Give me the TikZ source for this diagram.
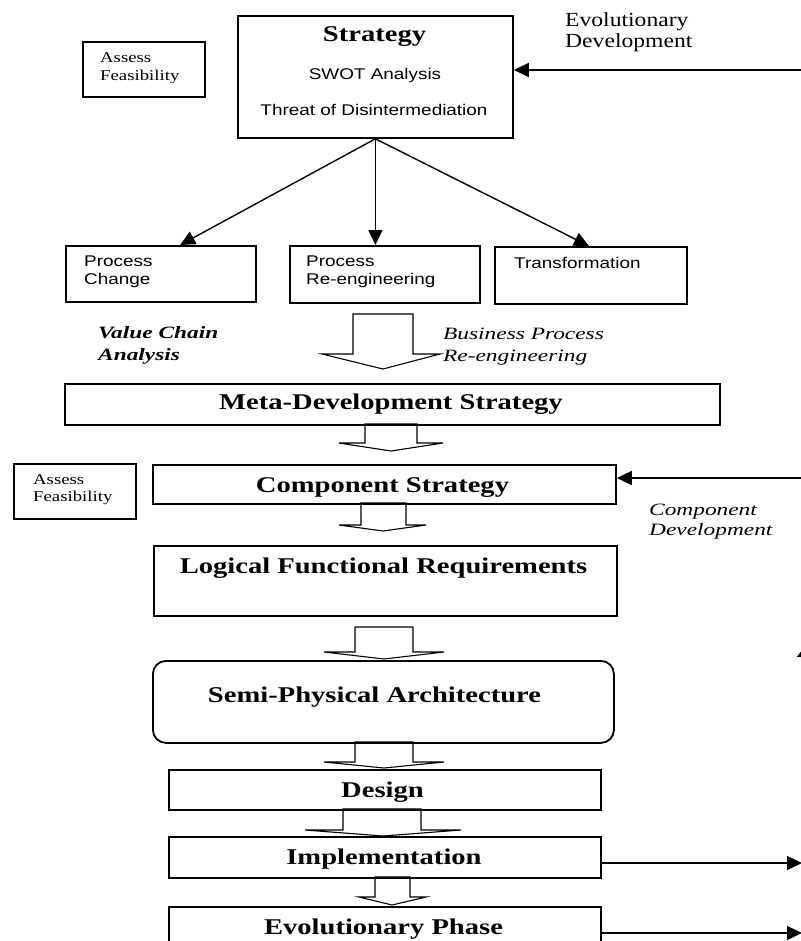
\documentclass[tikz,border=0pt]{standalone}
\usepackage{fontspec}
\setmainfont{Liberation Serif}
% widened faces: the figure's lettering is set noticeably broad
\newfontfamily\titlefont[FakeStretch=1.27]{Liberation Serif}
\newfontfamily\widesans[FakeStretch=1.22]{Liberation Sans}
\newfontfamily\noteserif[FakeStretch=1.25]{Liberation Serif}
\newfontfamily\labelserif[FakeStretch=1.35]{Liberation Serif}
\newfontfamily\evoserif[FakeStretch=1.18]{Liberation Serif}
\usetikzlibrary{arrows.meta,calc}

% hollow block arrow: shaft left, shaft right, shaft top, shoulder y,
% head left, head right, tip y, tip x
\newcommand\blkarrow[8]{%
  \draw[blockarrow] (#1,#3) -- (#2,#3) -- (#2,#4) -- (#6,#4) -- (#8,#7)
    -- (#5,#4) -- (#1,#4) -- cycle;}

\begin{document}
\begin{tikzpicture}[x=1pt,y=-1pt,
  box/.style={draw,line width=1.8pt,inner sep=0pt,anchor=north west},
  txt/.style={inner sep=0pt,anchor=base},
  ltxt/.style={inner sep=0pt,anchor=base west},
  title/.style={txt,font=\titlefont\bfseries\fontsize{22.5}{27}\selectfont},
  sanstext/.style={ltxt,font=\widesans\fontsize{15.5}{19}\selectfont},
  note/.style={ltxt,font=\noteserif\fontsize{15}{18}\selectfont},
  phase/.style={ltxt,font=\labelserif\itshape\fontsize{17.3}{21}\selectfont},
  evo/.style={ltxt,font=\evoserif\fontsize{20}{24}\selectfont},
  conn/.style={line width=1.4pt,-{Triangle[length=15pt,width=14pt]}},
  blockarrow/.style={line width=1.1pt,line join=miter}]
\useasboundingbox (0,0) rectangle (800,941);
\fill[white] (0,0) rectangle (800,941);

% ---- strategy level ----
\node[box,minimum width=275pt,minimum height=122pt] (strat) at (237,15) {};
\node[title] (stratT) at (374.5,42) {Strategy};
\node[txt,font=\widesans\fontsize{15.5}{19}\selectfont] (swot) at (375,80) {SWOT Analysis};
\node[txt,font=\widesans\fontsize{15.5}{19}\selectfont] (threat) at (374,116) {Threat of Disintermediation};

\node[box,minimum width=122pt,minimum height=55pt] (af1) at (82,41) {};
\node[note] (af1a) at (100,63) {Assess};
\node[note] (af1b) at (100,81) {Feasibility};

\node[evo] (evoA) at (565,27) {Evolutionary};
\node[evo] (evoB) at (565,48) {Development};

% ---- three kinds of change ----
\node[box,minimum width=190pt,minimum height=56pt] (pc) at (65,245) {};
\node[sanstext] (pcA) at (84,266) {Process};
\node[sanstext] (pcB) at (84,284) {Change};
\node[box,minimum width=190pt,minimum height=57pt] (pr) at (289,245) {};
\node[sanstext] (prA) at (306,266) {Process};
\node[sanstext] (prB) at (306,284) {Re-engineering};
\node[box,minimum width=192pt,minimum height=57pt] (tr) at (494,246) {};
\node[sanstext] (trA) at (514,268) {Transformation};

\draw[conn] (strat.south) -- ($(pc.north west)!0.6!(pc.north east)$);
\draw[conn] (strat.south) -- (strat.south |- pr.north);
\draw[conn] (strat.south) -- ($(tr.north west)!0.49!(tr.north east)$);

\coordinate (evoIn) at (806,70);
\draw[conn] (evoIn) -- (evoIn -| strat.east);

% ---- analysis techniques ----
\node[phase,font=\labelserif\bfseries\itshape\fontsize{17.3}{21}\selectfont] (vcA) at (98,338) {Value Chain};
\node[phase,font=\labelserif\bfseries\itshape\fontsize{17.3}{21}\selectfont] (vcB) at (98,360) {Analysis};
\node[phase] (bpA) at (443,339) {Business Process};
\node[phase] (bpB) at (443,361) {Re-engineering};
\blkarrow{353}{413}{314}{354}{322}{440}{369}{383}

% ---- development chain ----
\node[box,minimum width=655pt,minimum height=41pt] (meta) at (64,383) {};
\node[title] (metaT) at (391,409) {Meta-Development Strategy};
\blkarrow{365}{417}{424}{443}{339}{443}{451}{391}

\node[box,minimum width=122pt,minimum height=55pt] (af2) at (13,463) {};
\node[note] (af2a) at (33,484) {Assess};
\node[note] (af2b) at (33,501) {Feasibility};

\node[box,minimum width=463pt,minimum height=39pt] (comp) at (152,464) {};
\node[title] (compT) at (382.5,492) {Component Strategy};
\coordinate (compIn) at (806,478);
\draw[conn] (compIn) -- (compIn -| comp.east);
\node[phase] (cdA) at (649,515) {Component};
\node[phase] (cdB) at (649,535) {Development};
\blkarrow{361}{406}{503}{525}{339}{426}{531}{383}

\node[box,minimum width=463pt,minimum height=70pt] (logic) at (153,545) {};
\node[title] (logicT) at (383.5,573) {Logical Functional Requirements};
\blkarrow{355}{413}{627}{652}{324}{444}{659}{384}

% returning arrow, running just past the right edge
\coordinate (upFrom) at (806,720);
\coordinate (upTip) at (806,645);
\draw[line width=1.4pt,-{Triangle[length=12pt,width=18pt]}] (upFrom) -- (upTip);

\node[box,minimum width=461pt,minimum height=82pt,rounded corners=13pt] (semi) at (152,660) {};
\node[title] (semiT) at (374.5,702) {Semi-Physical Architecture};
\blkarrow{355}{413}{742}{762}{324}{444}{768}{384}

\node[box,minimum width=432pt,minimum height=40pt] (design) at (168,769) {};
\node[title] (designT) at (382.5,797) {Design};
\blkarrow{343}{421}{809}{830}{305}{461}{836}{383}

\node[box,minimum width=432pt,minimum height=41pt] (impl) at (168,836) {};
\node[title] (implT) at (384,864) {Implementation};
\coordinate (implOut) at (802,863);
\draw[conn] (implOut -| impl.east) -- (implOut);
\blkarrow{375}{410}{877}{897}{359}{426}{905}{392}

\node[box,minimum width=432pt,minimum height=60pt] (evol) at (168,906) {};
\node[title] (evolT) at (383.5,934) {Evolutionary Phase};
\coordinate (evolOut) at (802,933);
\draw[conn] (evolOut -| evol.east) -- (evolOut);
\end{tikzpicture}
\end{document}
